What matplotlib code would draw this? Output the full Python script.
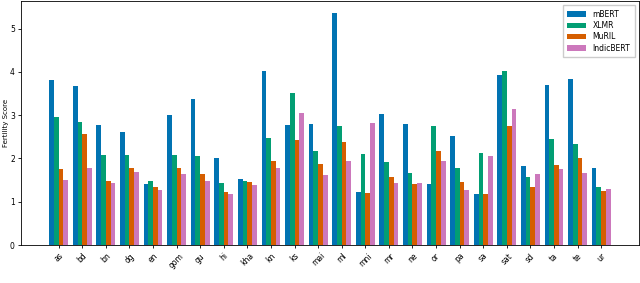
"""Fertility score per language for four multilingual tokenizers."""

import matplotlib

matplotlib.use("Agg")

import matplotlib.pyplot as plt
import numpy as np

languages = [
    "as", "bd", "bn", "dg", "en", "gom", "gu", "hi", "kha", "kn", "ks", "mai",
    "ml", "mni", "mr", "ne", "or", "pa", "sa", "sat", "sd", "ta", "te", "ur",
]

mbert = [3.82, 3.68, 2.78, 2.62, 1.41, 3.00, 3.37, 2.00, 1.52, 4.01, 2.78, 2.80,
         5.36, 1.22, 3.02, 2.80, 1.41, 2.52, 1.17, 3.92, 1.83, 3.69, 3.83, 1.78]
xlmr = [2.95, 2.85, 2.09, 2.09, 1.47, 2.09, 2.05, 1.43, 1.49, 2.48, 3.52, 2.18,
        2.75, 2.11, 1.93, 1.67, 2.75, 1.78, 2.12, 4.03, 1.58, 2.46, 2.33, 1.35]
muril = [1.75, 2.56, 1.47, 1.78, 1.34, 1.79, 1.65, 1.22, 1.45, 1.95, 2.42, 1.88,
         2.38, 1.20, 1.57, 1.42, 2.18, 1.45, 1.17, 2.74, 1.34, 1.85, 2.02, 1.25]
indicbert = [1.50, 1.79, 1.43, 1.69, 1.28, 1.64, 1.48, 1.18, 1.39, 1.77, 3.04, 1.61,
             1.95, 2.82, 1.44, 1.44, 1.95, 1.28, 2.05, 3.15, 1.64, 1.75, 1.66, 1.29]

series = {"mBERT": mbert, "XLMR": xlmr, "MuRIL": muril, "IndicBERT": indicbert}
colors = ["#0173b2", "#029e73", "#d55e00", "#cc78bc"]

fig, ax = plt.subplots(figsize=(6.4, 2.83), dpi=100)
fig.subplots_adjust(left=0.033, right=0.998, top=0.995, bottom=0.134)

x = np.arange(len(languages))
width = 0.2
for i, (name, values) in enumerate(series.items()):
    ax.bar(x + (i - 1.5) * width, values, width, label=name, color=colors[i])

ax.set_xticks(x)
ax.set_xticklabels(languages, rotation=45, fontsize=5.5)
ax.tick_params(axis="y", labelsize=5.5, length=2.5, width=0.6, pad=2)
ax.tick_params(axis="x", length=2.5, width=0.6, pad=2)
ax.set_ylabel("Fertility Score", fontsize=5, labelpad=1)
for spine in ax.spines.values():
    spine.set_linewidth(0.6)

ax.legend(loc="upper right", fontsize=5.5, handlelength=2.5, borderpad=0.6,
          labelspacing=0.3, fancybox=False, framealpha=1, edgecolor="#cccccc")

plt.savefig("out.png", dpi=100)
plt.close(fig)
